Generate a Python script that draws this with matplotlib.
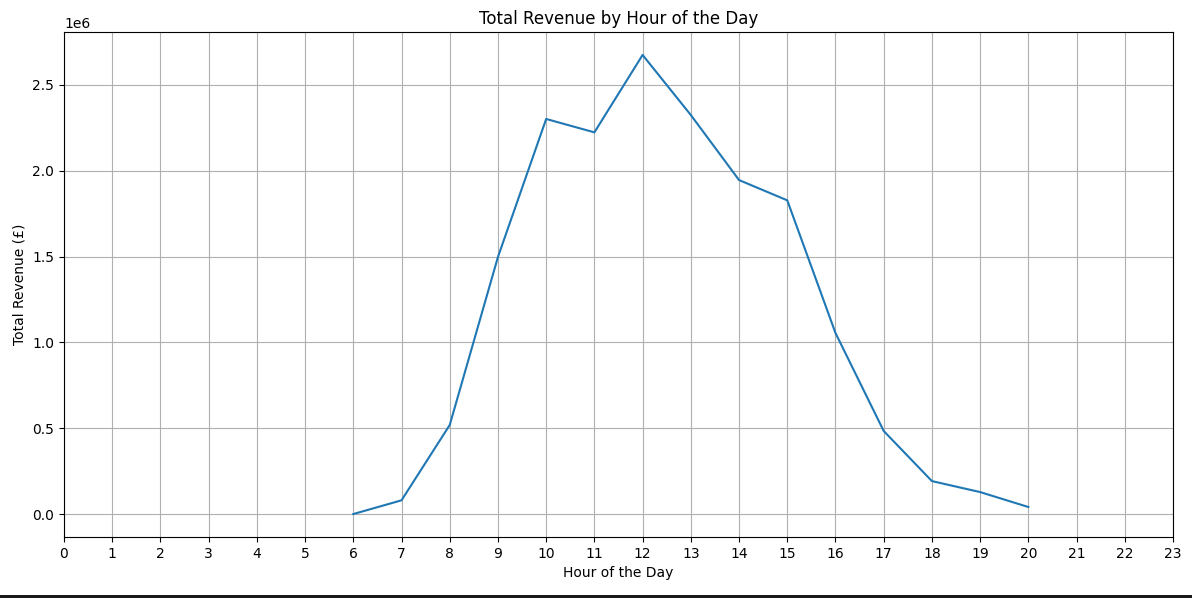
import matplotlib
matplotlib.use("Agg")
import matplotlib.pyplot as plt
from matplotlib.patches import Rectangle

hours = [6, 7, 8, 9, 10, 11, 12, 13, 14, 15, 16, 17, 18, 19, 20]
revenue = [0.0, 0.08e6, 0.519e6, 1.498e6, 2.302e6, 2.224e6, 2.675e6, 2.325e6,
           1.946e6, 1.828e6, 1.055e6, 0.484e6, 0.192e6, 0.128e6, 0.041e6]
xticks = list(range(0, 24))

fig, ax = plt.subplots(figsize=(11.92, 5.98), dpi=100)
ax.plot(hours, revenue, color="#1f77b4")
ax.set_title("Total Revenue by Hour of the Day")
ax.set_xlabel("Hour of the Day")
ax.set_ylabel("Total Revenue (£)")
ax.set_xticks(xticks)
ax.set_xlim(0, 23)
ax.grid(True)
fig.subplots_adjust(left=64/1192, right=1173/1192, top=1-32/598, bottom=1-537/598)
fig.add_artist(Rectangle((0, 0), 1, 3/598, transform=fig.transFigure,
                         color="#1a1a1a", lw=0))
fig.savefig("out.png", dpi=100)
